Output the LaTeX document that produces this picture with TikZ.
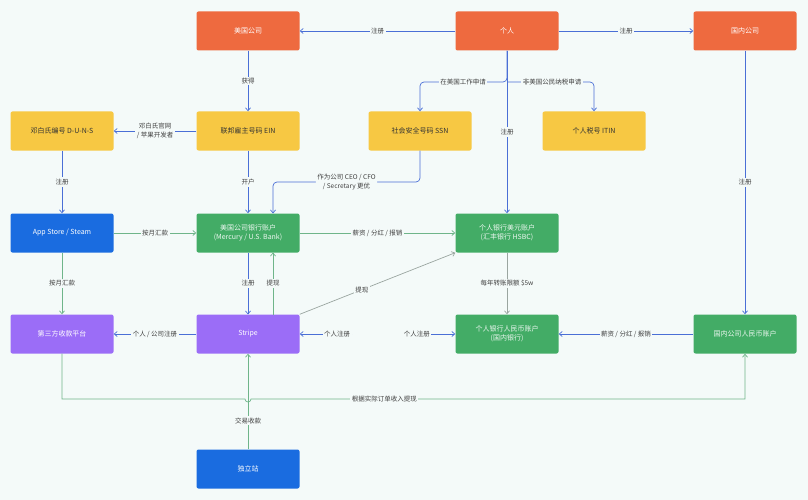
\documentclass[tikz,border=0pt]{standalone}
\usepackage{fontspec}
\setmainfont{Noto Sans CJK SC}
\usetikzlibrary{arrows.meta}
\definecolor{cor}{HTML}{EE6A3F}
\definecolor{cye}{HTML}{F7C843}
\definecolor{cbl}{HTML}{1A6CE0}
\definecolor{cgr}{HTML}{43AC66}
\definecolor{cpu}{HTML}{9B6DF7}
\definecolor{lbl}{HTML}{4A6FD6}
\definecolor{lgr}{HTML}{6FB58A}
\definecolor{lgy}{HTML}{9AA5A0}
\definecolor{bg}{HTML}{F4FAF9}
\begin{document}
\begin{tikzpicture}[x=1pt,y=-1pt,
 box/.style={rounded corners=2pt,minimum width=103pt,minimum height=39pt,inner sep=1pt,align=center,font=\fontsize{7}{9}\selectfont},
 o/.style={box,fill=cor,text=white},
 yb/.style={box,fill=cye,text=black!80},
 b/.style={box,fill=cbl,text=white},
 g/.style={box,fill=cgr,text=white!90!cgr},
 p/.style={box,fill=cpu,text=white},
 ab/.style={draw=lbl,line width=0.7pt,-{Straight Barb[length=3pt,width=5pt]}},
 ag/.style={draw=lgr,line width=0.7pt,-{Straight Barb[length=3pt,width=5pt]}},
 ay/.style={draw=lgy,line width=0.7pt,-{Straight Barb[length=3pt,width=5pt]}},
 lb/.style={fill=bg,font=\fontsize{6.5}{8.5}\selectfont,text=black!75,inner sep=1.5pt,align=center}]
\fill[bg] (0,0) rectangle (808,500);
\node[o] (us) at (248,31) {美国公司};
\node[o] (me) at (507,31) {个人};
\node[o] (cn) at (745,31) {国内公司};
\node[yb] (duns) at (62,131) {邓白氏编号 D-U-N-S};
\node[yb] (ein) at (248,131) {联邦雇主号码 EIN};
\node[yb] (ssn) at (420,131) {社会安全号码 SSN};
\node[yb] (itin) at (594,131) {个人税号 ITIN};
\node[b] (app) at (62,233) {App Store / Steam};
\node[g] (usacc) at (248,233) {美国公司银行账户\\(Mercury / U.S. Bank)};
\node[g] (usd) at (507,233) {个人银行美元账户\\(汇丰银行 HSBC)};
\node[p] (third) at (62,334) {第三方收款平台};
\node[p] (stripe) at (248,334) {Stripe};
\node[g] (rmb) at (507,334) {个人银行人民币账户\\(国内银行)};
\node[g] (cnacc) at (745,334) {国内公司人民币账户};
\node[b] (site) at (248,469) {独立站};
\coordinate (r1) at (352,334);
\coordinate (r2) at (402,334);
\coordinate (split) at (507,82);

\draw[ab] (me) -- node[lb]{注册} (us);
\draw[ab] (me) -- node[lb]{注册} (cn);
\draw[ab] (us) -- node[lb]{获得} (ein);
\draw[ab,rounded corners=4pt] (me.south) -- (split) -- (420,82) -- (ssn.north);
\node[lb] at (463,82) {在美国工作申请};
\draw[ab,rounded corners=4pt] (split) -- (594,82) -- (itin.north);
\node[lb] at (552,82) {非美国公民纳税申请};
\draw[ab] (me) -- node[lb,pos=0.5]{注册} (usd);
\draw[ab] (cn) -- node[lb,pos=0.5]{注册} (cnacc);
\draw[ab] (ein) -- node[lb]{邓白氏官网\\/ 苹果开发者} (duns);
\draw[ab] (ein) -- node[lb]{开户} (usacc);
\draw[ab,rounded corners=4pt] (ssn.south) -- (420,182) -- node[lb]{作为公司 CEO / CFO\\/ Secretary 更优} (273,182) -- (273,213.5);
\draw[ab] (duns) -- node[lb]{注册} (app);
\draw[ag] (app) -- node[lb]{按月汇款} (usacc);
\draw[ag] (usacc) -- node[lb]{薪资 / 分红 / 报销} (usd);
\draw[ag] (app) -- node[lb]{按月汇款} (third);
\draw[ab] (248,252.5) -- node[lb]{注册} (248,314.5);
\draw[ag] (273,314.5) -- node[lb]{提现} (273,252.5);
\draw[ay] (stripe.north east) -- node[lb,pos=0.4]{提现} (usd.south west);
\draw[ay] (usd) -- node[lb]{每年转账限额 \$5w} (rmb);
\draw[ab] (r1) -- node[lb,pos=0,anchor=east]{个人注册} (stripe);
\draw[ab] (r2) -- node[lb,pos=0,anchor=west]{个人注册} (rmb);
\draw[ab] (stripe) -- node[lb]{个人 / 公司注册} (third);
\draw[ab] (cnacc) -- node[lb]{薪资 / 分红 / 报销} (rmb);
\draw[ag] (third.south) -- (62,399) -- (245,399) arc[start angle=180,end angle=0,radius=3] -- node[lb,pos=0.27]{根据实际订单收入提现} (745,399) -- (cnacc.south);
\draw[ag] (site) -- node[lb,pos=0.3]{交易收款} (stripe);
\end{tikzpicture}
\end{document}
